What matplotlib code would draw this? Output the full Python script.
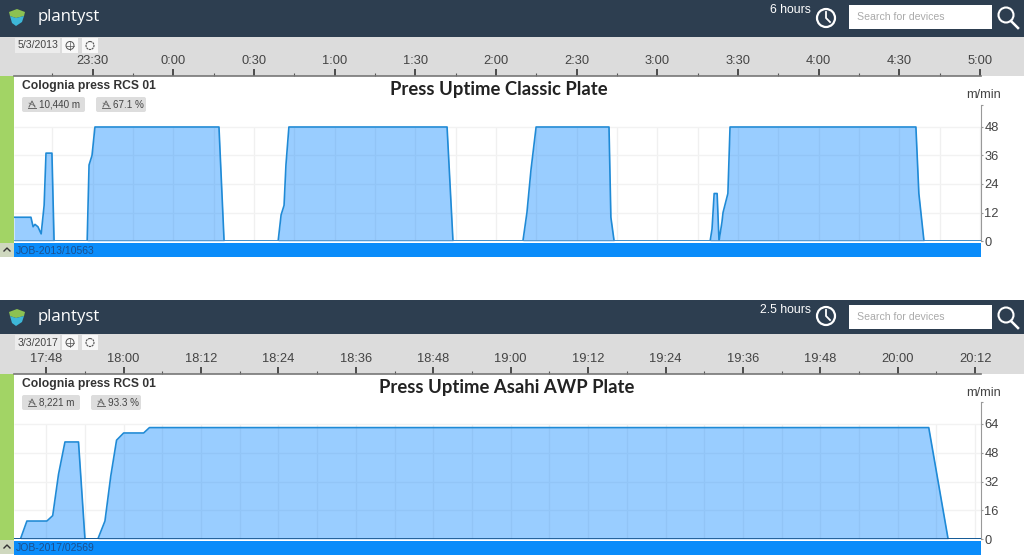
import matplotlib
matplotlib.use("Agg")
import matplotlib.pyplot as plt
from matplotlib.patches import Rectangle, Circle, Polygon, FancyBboxPatch

# --- chart data, times are minutes after midnight (top) and after 17:00 (bottom) ---
top_minutes = [-59.2, -52.9, -52.1, -51.4, -50.3, -49.1, -48, -47.3, -45.1, -44.3, -32, -31.3,
               -30.2, -29.1, 17, 18.9, 39, 40.1, 41.2, 41.9, 43, 101.8, 104, 130, 131.5, 133,
               134.9, 162, 162.7, 163.9, 199.6, 200.3, 201.1, 202.2, 202.9, 204, 204.4, 206.2,
               207, 276.1, 277.2, 279.1, 300.3]
top_speed = [10, 10, 6, 7, 6, 3, 15, 37, 37, 0, 0, 32,
             36, 48, 48, 0, 0, 11, 15, 32, 48, 48, 0, 0, 12, 30,
             48, 48, 10, 0, 0, 5, 20, 20, 0, 8, 12, 20,
             48, 48, 20, 0, 0]
top_ticks = [-30, 0, 30, 60, 90, 120, 150, 180, 210, 240, 270, 300]
top_labels = ["23:30", "0:00", "0:30", "1:00", "1:30", "2:00", "2:30", "3:00", "3:30", "4:00", "4:30", "5:00"]
top_yticks = [0, 12, 24, 36, 48]

bot_minutes = [43, 44, 45, 48.1, 49, 49.9, 50.9, 53, 54, 56, 57.1, 58, 58.9, 60, 63.1, 64,
               184.8, 187.8, 192.9]
bot_speed = [0, 0, 10, 10, 13, 36, 54, 54, 0, 0, 10, 35, 55, 59, 59, 62, 62, 0, 0]
bot_ticks = [48, 60, 72, 84, 96, 108, 120, 132, 144, 156, 168, 180, 192]
bot_labels = ["17:48", "18:00", "18:12", "18:24", "18:36", "18:48", "19:00", "19:12", "19:24",
              "19:36", "19:48", "20:00", "20:12"]
bot_yticks = [0, 16, 32, 48, 64]

NAVY = "#2d3e50"
HEADER = "#dcdcdc"
GREEN = "#a2d465"
TEXT = "#444444"
ARIAL = "Liberation Sans"

fig = plt.figure(figsize=(10.24, 5.55), dpi=100, facecolor="white")
bg = fig.add_axes([0, 0, 1, 1])
bg.set_xlim(0, 1024)
bg.set_ylim(555, 0)
bg.axis("off")


def rect(x, y, w, h, color, z=1):
    bg.add_patch(Rectangle((x, y), w, h, facecolor=color, edgecolor="none", zorder=z))


def person_icon(x, y):
    # little press icon in the badges
    bg.plot([x - 4, x + 4], [y + 4, y + 4], color="#666666", lw=0.7, zorder=4)
    bg.plot([x - 3, x, x + 3], [y + 3, y - 3, y + 3], color="#666666", lw=0.7, zorder=4)
    bg.plot([x - 3, x + 3], [y - 1, y + 2], color="#666666", lw=0.5, zorder=4)


def badge(x, y, w, label):
    bg.add_patch(FancyBboxPatch((x + 2, y + 2), w - 4, 11, boxstyle="round,pad=2",
                                facecolor="#dddddd", edgecolor="none", zorder=3))
    person_icon(x + 10, y + 7)
    bg.text(x + 17, y + 7.5, label, fontsize=7.1, color=TEXT, family=ARIAL, va="center", zorder=4)


def chrome(nav_y, nav_h, head_h, green_end, date, span, span_x, badges, title):
    rect(0, nav_y, 1024, nav_h, NAVY)
    head_y = nav_y + nav_h
    rect(0, head_y, 1024, head_h, HEADER)
    rect(0, head_y + head_h, 14, green_end - head_y - head_h, GREEN)
    rect(0, green_end, 14, 14, "#cfd8bf")
    bg.plot([4, 7, 10], [green_end + 8, green_end + 5, green_end + 8], color="#333333", lw=1, zorder=3)
    rect(14, green_end + (0 if nav_y == 0 else 1), 967, 14, "#0a8cfa", 2)

    # logo
    ly = nav_y + 8
    bg.add_patch(Polygon([[9, ly + 4], [17, ly + 1], [25, ly + 4], [24, ly + 8], [16, ly + 10], [10, ly + 8]],
                         facecolor="#8cc152", edgecolor="none", zorder=3))
    bg.add_patch(Polygon([[10, ly + 8], [16, ly + 10], [24, ly + 8], [22, ly + 14], [16, ly + 18], [12, ly + 15]],
                         facecolor="#3db7d8", edgecolor="none", zorder=3))
    bg.text(38, nav_y + 17, "plantyst", color="white", fontsize=12.1, family="Open Sans", va="center", zorder=3)

    # time span and search
    bg.text(span_x, nav_y + 10, span, color="white", fontsize=8.8, family=ARIAL, ha="center", va="center", zorder=3)
    cy = nav_y + 18 if nav_y == 0 else nav_y + 16
    bg.add_patch(Circle((826, cy), 9, facecolor="none", edgecolor="white", lw=1.6, zorder=3))
    bg.plot([826, 826, 830], [cy - 6, cy, cy + 4], color="white", lw=1.3, zorder=3)
    rect(849, nav_y + 5, 143, 24, "white", 3)
    bg.text(857, nav_y + 17.5, "Search for devices", color="#aaaaaa", fontsize=7.6, family=ARIAL, va="center", zorder=4)
    bg.add_patch(Circle((1006, nav_y + 15), 7.5, facecolor="none", edgecolor="white", lw=1.5, zorder=3))
    bg.plot([1011, 1018], [nav_y + 21, nav_y + 28], color="white", lw=1.8, zorder=3)

    # date box
    rect(15, head_y + 1, 45, 15, "#ececec", 3)
    bg.text(18, head_y + 8.5, date, color=TEXT, fontsize=7.6, family=ARIAL, va="center", zorder=4)
    rect(62, head_y + 1, 16, 15, "#f8f8f8", 3)
    rect(82, head_y + 1, 16, 15, "#f8f8f8", 3)
    bg.add_patch(Circle((70, head_y + 8.5), 4, facecolor="none", edgecolor="#555555", lw=0.7, zorder=4))
    bg.plot([66, 74], [head_y + 8.5, head_y + 8.5], color="#555555", lw=0.5, zorder=4)
    bg.plot([70, 70], [head_y + 4.5, head_y + 12.5], color="#555555", lw=0.5, zorder=4)
    bg.add_patch(Circle((90, head_y + 8.5), 4, facecolor="none", edgecolor="#555555", lw=0.8, ls=(0, (2, 0.6)), zorder=4))

    # labels under the header
    top = head_y + head_h
    bg.text(22, top + 9.5, "Colognia press RCS 01", color="#333333", fontsize=8.7, fontweight="bold",
            family=ARIAL, va="center", zorder=4)
    for bx, bw, label in badges:
        badge(bx, top + 21, bw, label)
    bg.text(499 if nav_y == 0 else 507, top + 14, title, color="#222222", fontsize=13.3, fontweight="bold",
            family="Lato", ha="center", va="center", zorder=4)
    bg.text(984, top + 19, "m/min", color=TEXT, fontsize=9.2, family=ARIAL,
            ha="center", va="center", zorder=4)
    return top


def job_text(y, label):
    bg.text(16, y, label, color="#1c4f8c", fontsize=7.5, family=ARIAL, va="center", zorder=4)


def panel(top, zero_y, px_per_unit, axis_top_y, xlim, minutes, speed, ticks, labels, yticks, minor_step, job, job_y, zero_col):
    ax = fig.add_axes([14 / 1024, 1 - zero_y / 555, 967 / 1024, (zero_y - top) / 555])
    ax.patch.set_alpha(0)
    ax.set_xlim(*xlim)
    ax.set_ylim(0, (zero_y - top) / px_per_unit)
    axis_top = (zero_y - axis_top_y) / px_per_unit

    # grid stops at the top value of the scale
    grid_x = []
    t = ticks[0] - minor_step
    while t < xlim[1]:
        grid_x.append(t)
        t += minor_step
    ax.vlines(grid_x, 0, yticks[-1], color="#f0f0f0", lw=1, zorder=1)
    ax.hlines(yticks[1:], xlim[0], xlim[1], color="#f2f2f2", lw=1, zorder=1)

    ax.fill_between(minutes, 0, speed, color="#1e90ff", alpha=0.45, lw=0, zorder=2)
    ax.plot(minutes, speed, color="#1f8ad6", lw=1.2, zorder=3)
    ax.axhline(0, color=zero_col, lw=1.2, zorder=3)

    for side in ["left", "bottom"]:
        ax.spines[side].set_visible(False)
    ax.spines["top"].set_color("#777777")
    ax.spines["top"].set_linewidth(1.2)
    ax.spines["right"].set_color("#999999")
    ax.spines["right"].set_bounds(0, axis_top)

    ax.xaxis.tick_top()
    ax.set_xticks(ticks)
    ax.set_xticklabels(labels, fontsize=9.3, color=TEXT, family=ARIAL)
    ax.set_xticks([v for v in grid_x if v not in ticks and xlim[0] <= v <= xlim[1]], minor=True)
    ax.tick_params(axis="x", which="major", length=5, width=1.2, color="#333333", pad=1.5)
    ax.tick_params(axis="x", which="minor", length=2, width=0.8, color="#555555")

    ax.yaxis.tick_right()
    ax.set_yticks(yticks + [axis_top])
    ax.set_yticklabels([str(v) for v in yticks] + [""], fontsize=9.3, color=TEXT, family=ARIAL)
    ax.tick_params(axis="y", length=1.5, width=0.8, color="#999999", pad=0.8)

    job_text(job_y, job)
    return ax


top1 = chrome(0, 37, 39, 243, "5/3/2013", "6 hours", 790,
              [(22, 63, "10,440 m"), (96, 50, "67.1 %")], "Press Uptime Classic Plate")
top2 = chrome(300, 34, 40, 540, "3/3/2017", "2.5 hours", 785,
              [(22, 58, "8,221 m"), (91, 50, "93.3 %")], "Press Uptime Asahi AWP Plate")

panel(top1, 241, 114 / 48, 105, (-59.2, 300.3), top_minutes, top_speed, top_ticks, top_labels,
      top_yticks, 15, "JOB-2013/10563", 250.5, "#4a90c8")
panel(top2, 539, 115 / 64, 402, (43, 192.9), bot_minutes, bot_speed, bot_ticks, bot_labels,
      bot_yticks, 6, "JOB-2017/02569", 548, "#0f4f8a")

fig.savefig("out.png", dpi=100)
